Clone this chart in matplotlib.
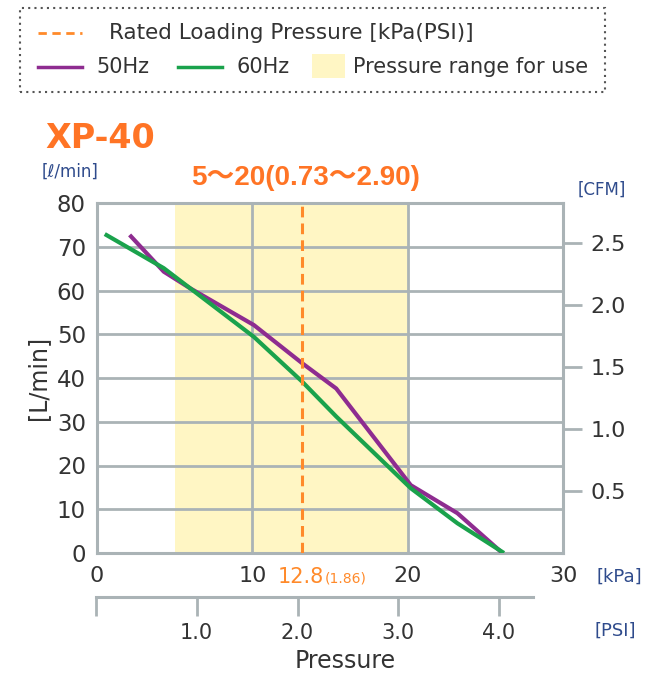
import matplotlib
matplotlib.use("Agg")
import matplotlib.pyplot as plt
from matplotlib.patches import Rectangle
from matplotlib.lines import Line2D

# data
kpa_50 = [2.1, 4.3, 6.0, 10.1, 13.2, 15.4, 20.2, 23.2, 26.0]
flow_50 = [72.7, 64.3, 60.5, 52.1, 43.4, 37.6, 15.5, 9.1, 0.3]
kpa_60 = [0.5, 4.3, 10.1, 13.2, 15.4, 20.2, 23.2, 26.2]
flow_60 = [72.9, 65.1, 49.4, 39.2, 31.2, 14.8, 6.8, 0.0]
use_range = [5, 20]
rated_kpa = 13.2
kpa_ticks = [0, 10, 20, 30]
flow_ticks = [0, 10, 20, 30, 40, 50, 60, 70, 80]
cfm_ticks = [0.5, 1.0, 1.5, 2.0, 2.5]
psi_ticks = [0, 1.0, 2.0, 3.0, 4.0]
psi_labels = ["", "1.0", "2.0", "3.0", "4.0"]
L_PER_CFM = 28.317

ORANGE = "#ff8a2a"
TITLE_OR = "#ff7425"
PURPLE = "#8e2c90"
GREEN = "#1aa24c"
YELLOW = "#fff6c4"
GRID = "#aab3b6"
TXT = "#333333"
BLUE = "#2f4b8c"

W, H = 660, 675
fig = plt.figure(figsize=(W / 100, H / 100), dpi=100)

def fx(px):
    return px / W

def fy(py):
    return 1 - py / H

ax = fig.add_axes([fx(97), fy(553), fx(563) - fx(97), fy(203) - fy(553)])
ax.set_xlim(0, 30)
ax.set_ylim(0, 80)
ax.set_axisbelow(True)
ax.axvspan(use_range[0], use_range[1], color=YELLOW, zorder=0.1, lw=0)
ax.grid(True, color=GRID, lw=2)
for s in ax.spines.values():
    s.set_color(GRID)
    s.set_linewidth(2.2)
ax.set_xticks(kpa_ticks)
ax.set_yticks(flow_ticks)
ax.set_xticklabels([str(t) for t in kpa_ticks], fontsize=16, color=TXT)
ax.set_yticklabels([str(t) for t in flow_ticks], fontsize=16.5, color=TXT)
ax.tick_params(axis="x", length=0, pad=9)
ax.tick_params(axis="y", length=0, pad=8)

ax.plot(kpa_50, flow_50, color=PURPLE, lw=3, solid_capstyle="butt", zorder=3)
ax.plot(kpa_60, flow_60, color=GREEN, lw=3, solid_capstyle="butt", zorder=4)
ax.axvline(rated_kpa, color=ORANGE, lw=2.2, ls=(0, (3.5, 2)), zorder=5)

ax.set_ylabel("[L/min]", fontsize=17, color=TXT)
ax.yaxis.set_label_coords((50 - 97) / (563 - 97), 0.5)

# right CFM axis
axr = ax.twinx()
axr.set_ylim(0, 80 / L_PER_CFM)
axr.set_yticks(cfm_ticks)
axr.set_yticklabels([f"{t:.1f}" for t in cfm_ticks], fontsize=16, color=TXT)
axr.tick_params(axis="y", length=14, width=2, color=GRID, pad=6)
for s in axr.spines.values():
    s.set_visible(False)

# rated pressure labels under the axis
fig.text(fx(278), fy(577), "12.8", fontsize=15, color=ORANGE, ha="left", va="center")
fig.text(fx(325), fy(579), "(1.86)", fontsize=10, color=ORANGE, ha="left", va="center")
fig.text(fx(597), fy(577), "[kPa]", fontsize=13, color=BLUE, ha="left", va="center")

# PSI scale
axp = fig.add_axes([fx(96), fy(597) - 0.01, fx(533) - fx(96), 0.01])
axp.patch.set_alpha(0)
axp.set_xlim(0, (533 - 96) / 100.75)
axp.set_yticks([])
for k in ["left", "right", "bottom"]:
    axp.spines[k].set_visible(False)
axp.spines["top"].set_color(GRID)
axp.spines["top"].set_linewidth(2.2)
axp.xaxis.set_ticks_position("top")
axp.set_xticks(psi_ticks)
axp.set_xticklabels(psi_labels, fontsize=15, color=TXT)
axp.tick_params(axis="x", direction="in", length=14, width=2, color=GRID,
                labeltop=False, labelbottom=True, pad=14)
fig.text(fx(595), fy(631), "[PSI]", fontsize=13, color=BLUE, ha="left", va="center")
fig.text(fx(345), fy(661), "Pressure", fontsize=17, color=TXT, ha="center", va="center")

# titles
fig.text(fx(45), fy(138), "XP-40", fontsize=24, fontweight="bold", color=TITLE_OR,
         ha="left", va="center")
fig.text(fx(306), fy(178), "5～20(0.73～2.90)", fontsize=20, fontweight="bold",
         color=TITLE_OR, ha="center", va="center",
         family=["Liberation Sans", "Noto Sans CJK JP"])
fig.text(fx(42), fy(172), "[ℓ/min]", fontsize=12, color=BLUE, ha="left", va="center")
fig.text(fx(578), fy(190), "[CFM]", fontsize=12, color=BLUE, ha="left", va="center")

# legend box
fig.add_artist(Rectangle((fx(20), fy(92)), fx(605) - fx(20), fy(8) - fy(92),
                         transform=fig.transFigure, fill=False, ec="#555555",
                         lw=1.5, ls=(0, (1, 2))))
fig.add_artist(Line2D([fx(38), fx(82)], [fy(33), fy(33)], color=ORANGE, lw=2,
                      ls=(0, (3, 2))))
fig.text(fx(109), fy(33), "Rated Loading Pressure [kPa(PSI)]", fontsize=15.5,
         color=TXT, ha="left", va="center")
fig.add_artist(Line2D([fx(38), fx(82)], [fy(67), fy(67)], color=PURPLE, lw=2.5))
fig.text(fx(96), fy(67), "50Hz", fontsize=15, color=TXT, ha="left", va="center")
fig.add_artist(Line2D([fx(178), fx(222)], [fy(67), fy(67)], color=GREEN, lw=2.5))
fig.text(fx(236), fy(67), "60Hz", fontsize=15, color=TXT, ha="left", va="center")
fig.add_artist(Rectangle((fx(312), fy(78)), fx(345) - fx(312), fy(54) - fy(78),
                         transform=fig.transFigure, color=YELLOW, lw=0))
fig.text(fx(353), fy(67), "Pressure range for use", fontsize=15, color=TXT,
         ha="left", va="center")

fig.savefig("out.png", dpi=100)
